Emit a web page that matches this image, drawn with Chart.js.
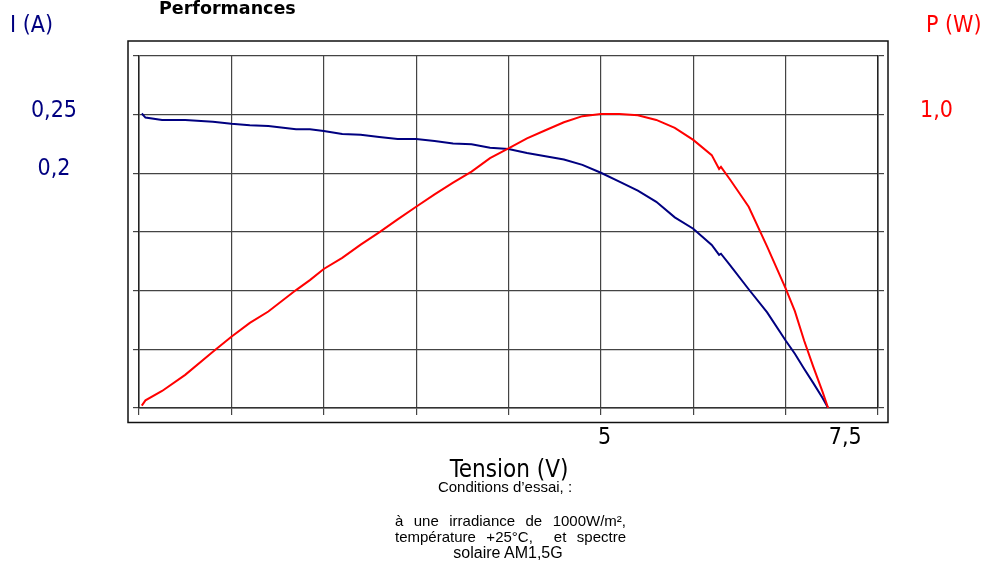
<!DOCTYPE html>
<html>
<head>
<meta charset="utf-8">
<script src="https://cdn.jsdelivr.net/npm/chart.js@4"></script>
<style>
    html, body { margin: 0; padding: 0; background: #fff; }
    #wrap { position: relative; width: 984px; height: 568px; overflow: hidden; }
    #chart { position: absolute; left: 0; top: 0; }
    .lbl { position: absolute; white-space: nowrap; font-family: "DejaVu Sans Condensed", "DejaVu Sans", sans-serif; font-size: 23px; line-height: 23px; }
    .note { position: absolute; white-space: nowrap; font-family: "Liberation Sans", Arial, sans-serif; font-size: 15px; line-height: 16px; color: #000; }
</style>
</head>
<body>
<div id="wrap">
    <canvas id="chart" width="984" height="568"></canvas>
    <div class="lbl" style="left:159px;top:0px;font-family:'DejaVu Sans';font-weight:bold;font-size:17.5px;line-height:17.5px;">Performances</div>
    <div class="lbl" style="left:10px;top:13px;color:#000080;">I (A)</div>
    <div class="lbl" style="left:926px;top:13px;color:#ff0000;">P (W)</div>
    <div class="lbl" style="left:409px;width:200px;text-align:center;top:457px;font-size:24px;line-height:24px;color:#000;">Tension (V)</div>
    <div class="note" style="left:400px;width:210px;text-align:center;top:479px;">Conditions d’essai, :</div>
    <div class="note" style="left:395px;width:231px;text-align:justify;text-align-last:justify;top:513px;">à une irradiance de 1000W/m²,</div>
    <div class="note" style="left:395px;width:231px;text-align:justify;text-align-last:justify;top:529px;">température +25°C, &nbsp;et spectre</div>
    <div class="note" style="left:403px;width:210px;text-align:center;top:545px;font-size:16px;">solaire AM1,5G</div>
</div>
<script>
    const voltage = [0.03, 0.07, 0.25, 0.5, 0.8, 1.0, 1.2, 1.4, 1.7, 1.85, 2.0, 2.2, 2.4, 2.6, 2.8, 3.0, 3.2, 3.4, 3.6, 3.8,
        4.0, 4.2, 4.4, 4.6, 4.8, 5.0, 5.2, 5.4, 5.6, 5.8, 6.0, 6.2, 6.28, 6.3, 6.4, 6.6, 6.8, 7.0, 7.1, 7.2, 7.3, 7.4, 7.46];
    const currentA = [0.251, 0.2475, 0.2455, 0.2454, 0.244, 0.2423, 0.241, 0.2403, 0.2375, 0.2375, 0.236, 0.2335, 0.2328, 0.231, 0.2293, 0.2292, 0.2275, 0.2255, 0.2248, 0.2218,
        0.2208, 0.2173, 0.2145, 0.2118, 0.2072, 0.2005, 0.193, 0.1852, 0.1757, 0.1625, 0.1528, 0.139, 0.1305, 0.1315, 0.1215, 0.1012, 0.0815, 0.0575, 0.0462, 0.0335, 0.0212, 0.0085, 0.0];
    const powerW = [0.008, 0.026, 0.058, 0.113, 0.192, 0.243, 0.29, 0.329, 0.402, 0.436, 0.474, 0.512, 0.557, 0.599, 0.643, 0.686, 0.728, 0.768, 0.806, 0.852,
        0.885, 0.919, 0.947, 0.974, 0.995, 1.002, 1.002, 0.998, 0.982, 0.955, 0.914, 0.862, 0.815, 0.822, 0.778, 0.686, 0.55, 0.408, 0.33, 0.23, 0.14, 0.055, 0.0];

    const xTickLabels = {5: '5', 7.5: '7,5'};
    const currentTickLabels = {0.25: '0,25', 0.2: '0,2'};
    const powerTickLabels = {1: '1,0'};

    function findLabel(table, value) {
        for (const k in table) {
            if (Math.abs(Number(k) - value) < 1e-6) return table[k];
        }
        return '';
    }

    const isInteger = (v) => Math.abs(v - Math.round(v)) < 1e-6;
    const gridCol = '#444';
    const tickFont = {family: "'DejaVu Sans Condensed', 'DejaVu Sans'", size: 23};

    // no label overflow padding, the plot box is placed by hand
    function noPad(scale) {
        scale.paddingTop = 0;
        scale.paddingBottom = 0;
        scale.paddingLeft = 0;
        scale.paddingRight = 0;
    }

    const framePlugin = {
        id: 'frame',
        beforeDraw(chart) {
            const ctx = chart.ctx;
            const a = chart.chartArea;
            ctx.save();
            ctx.strokeStyle = '#111';
            ctx.lineWidth = 1.5;
            ctx.strokeRect(a.left - 11, a.top - 15, (a.right - a.left) + 21, (a.bottom - a.top) + 29.5);
            ctx.restore();
        }
    };

    new Chart(document.getElementById('chart'), {
        type: 'line',
        data: {
            datasets: [
                {
                    label: 'P (W)',
                    data: voltage.map((v, i) => ({x: v, y: powerW[i]})),
                    borderColor: '#ff0000',
                    borderWidth: 2,
                    pointRadius: 0,
                    tension: 0,
                    yAxisID: 'y1',
                    order: 0
                },
                {
                    label: 'I (A)',
                    data: voltage.map((v, i) => ({x: v, y: currentA[i]})),
                    borderColor: '#000080',
                    borderWidth: 2,
                    pointRadius: 0,
                    tension: 0,
                    yAxisID: 'y',
                    order: 1
                }
            ]
        },
        options: {
            responsive: false,
            animation: false,
            layout: {autoPadding: false, padding: {top: 56, left: 0, right: 0, bottom: 0}},
            plugins: {legend: {display: false}, tooltip: {enabled: false}},
            scales: {
                x: {
                    type: 'linear',
                    min: 0,
                    max: 8,
                    afterFit(scale) { scale.height = 160; noPad(scale); },
                    ticks: {
                        stepSize: 0.5,
                        autoSkip: false,
                        maxRotation: 0,
                        align: 'start',
                        labelOffset: -3,
                        padding: 9,
                        color: '#000',
                        font: tickFont,
                        callback: (v) => findLabel(xTickLabels, v)
                    },
                    grid: {
                        color: (c) => isInteger(c.tick.value) ? gridCol : 'rgba(0,0,0,0)',
                        tickColor: (c) => isInteger(c.tick.value) ? gridCol : 'rgba(0,0,0,0)',
                        tickLength: 7,
                        lineWidth: 1.2
                    },
                    border: {color: '#333', width: 1.5}
                },
                y: {
                    position: 'left',
                    min: 0,
                    max: 0.3,
                    afterFit(scale) { scale.width = 139; noPad(scale); },
                    ticks: {
                        stepSize: 0.05,
                        autoSkip: false,
                        crossAlign: 'center',
                        padding: 56,
                        labelOffset: -4,
                        color: '#000080',
                        font: tickFont,
                        callback: (v) => findLabel(currentTickLabels, v)
                    },
                    grid: {color: gridCol, tickColor: gridCol, tickLength: 6, lineWidth: 1.2},
                    border: {color: '#222', width: 1.5}
                },
                y1: {
                    position: 'right',
                    min: 0,
                    max: 1.2,
                    afterFit(scale) { scale.width = 106; noPad(scale); },
                    ticks: {
                        stepSize: 0.2,
                        autoSkip: false,
                        padding: 36,
                        labelOffset: -4,
                        color: '#ff0000',
                        font: tickFont,
                        callback: (v) => findLabel(powerTickLabels, v)
                    },
                    grid: {drawOnChartArea: false, tickColor: gridCol, tickLength: 6, lineWidth: 1.2},
                    border: {color: '#222', width: 1.5}
                }
            }
        },
        plugins: [framePlugin]
    });
</script>
</body>
</html>
